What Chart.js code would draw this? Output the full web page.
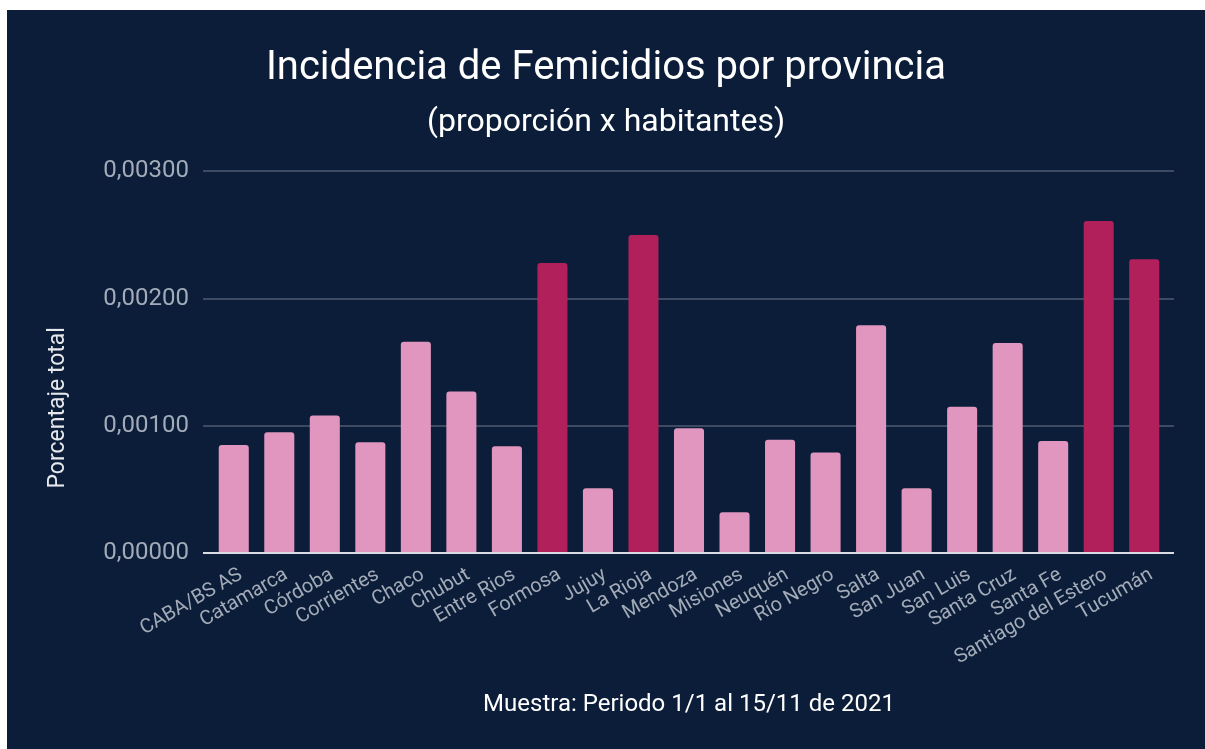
<!DOCTYPE html>
<html>
<head>
<meta charset="utf-8">
<script src="https://cdn.jsdelivr.net/npm/chart.js@4.4.1/dist/chart.umd.min.js"></script>
<style>
  body { margin: 0; background: #ffffff; }
  #wrap { position: absolute; left: 7px; top: 10px; width: 1198px; height: 739px; background: #0b1d38; }
</style>
</head>
<body>
<div id="wrap"><canvas id="femChart"></canvas></div>
<script>
const provincias = ['CABA/BS AS', 'Catamarca', 'Córdoba', 'Corrientes', 'Chaco', 'Chubut', 'Entre Rios',
  'Formosa', 'Jujuy', 'La Rioja', 'Mendoza', 'Misiones', 'Neuquén', 'Río Negro', 'Salta', 'San Juan',
  'San Luis', 'Santa Cruz', 'Santa Fe', 'Santiago del Estero', 'Tucumán'];
const incidencia = [0.00085, 0.00095, 0.00108, 0.00087, 0.00166, 0.00127, 0.00084,
  0.00228, 0.00051, 0.00250, 0.00098, 0.00032, 0.00089, 0.00079, 0.00179, 0.00051,
  0.00115, 0.00165, 0.00088, 0.00261, 0.00231];
// provincias resaltadas en color fuerte
const destacadas = ['Formosa', 'La Rioja', 'Santiago del Estero', 'Tucumán'];
const yTicks = [0, 0.001, 0.002, 0.003];

const rosa = '#e096bf';
const fucsia = '#b2205c';
const gris = '#a3abb8';
const lineaGris = '#3d4a62';
const lineaCero = '#d9dde3';

const barColors = provincias.map(p => destacadas.includes(p) ? fucsia : rosa);
const gridColor = c => (c.tick && c.tick.value === 0) ? lineaCero : lineaGris;

const ctx = document.getElementById('femChart').getContext('2d');
new Chart(ctx, {
  type: 'bar',
  data: {
    labels: provincias,
    datasets: [{
      label: 'Porcentaje total',
      data: incidencia,
      backgroundColor: barColors,
      borderRadius: 3,
      borderSkipped: 'bottom',
      barPercentage: 0.66,
      categoryPercentage: 1
    }]
  },
  options: {
    responsive: true,
    maintainAspectRatio: false,
    animation: false,
    layout: { padding: 0 },
    plugins: {
      legend: { display: false },
      tooltip: { enabled: false },
      title: {
        display: true,
        text: 'Incidencia de Femicidios por provincia',
        color: '#ffffff',
        font: { family: 'Roboto', size: 40, weight: 'normal' },
        padding: { top: 35, bottom: 0 }
      },
      subtitle: {
        display: true,
        text: '(proporción x habitantes)',
        color: '#ffffff',
        font: { family: 'Roboto', size: 32, weight: 'normal' },
        padding: { top: 11, bottom: 29 }
      }
    },
    scales: {
      x: {
        afterFit: s => { s.height = 196; },
        grid: { display: false },
        border: { display: false },
        ticks: {
          color: gris,
          font: { family: 'Roboto', size: 20 },
          minRotation: 30,
          maxRotation: 30,
          autoSkip: false,
          padding: 2,
          labelOffset: 7
        },
        title: {
          display: true,
          text: 'Muestra: Periodo 1/1 al 15/11 de 2021',
          color: '#ffffff',
          font: { family: 'Roboto', size: 24 },
          padding: { top: 0, bottom: 30 }
        }
      },
      y: {
        min: 0,
        max: 0.003,
        afterFit: s => { s.width = 204; },
        afterBuildTicks: s => { s.ticks = yTicks.map(v => ({ value: v })); },
        grid: { color: gridColor, lineWidth: 2, drawTicks: true, tickLength: 8 },
        border: { display: false },
        ticks: {
          color: gris,
          font: { family: 'Roboto', size: 24 },
          padding: 14,
          callback: v => v.toFixed(5).replace('.', ',')
        },
        title: {
          display: true,
          text: 'Porcentaje total' + ' '.repeat(16),
          color: '#e6e8ec',
          font: { family: 'Roboto', size: 23 },
          padding: { top: 37, bottom: 0 }
        }
      },
      yDer: {
        position: 'right',
        min: 0,
        max: 0.003,
        afterFit: s => { s.width = 38; },
        afterBuildTicks: s => { s.ticks = yTicks.map(v => ({ value: v })); },
        grid: { color: gridColor, lineWidth: 2, drawOnChartArea: false, drawTicks: true, tickLength: 7 },
        border: { display: false },
        ticks: { display: false }
      }
    }
  }
});
</script>
</body>
</html>
